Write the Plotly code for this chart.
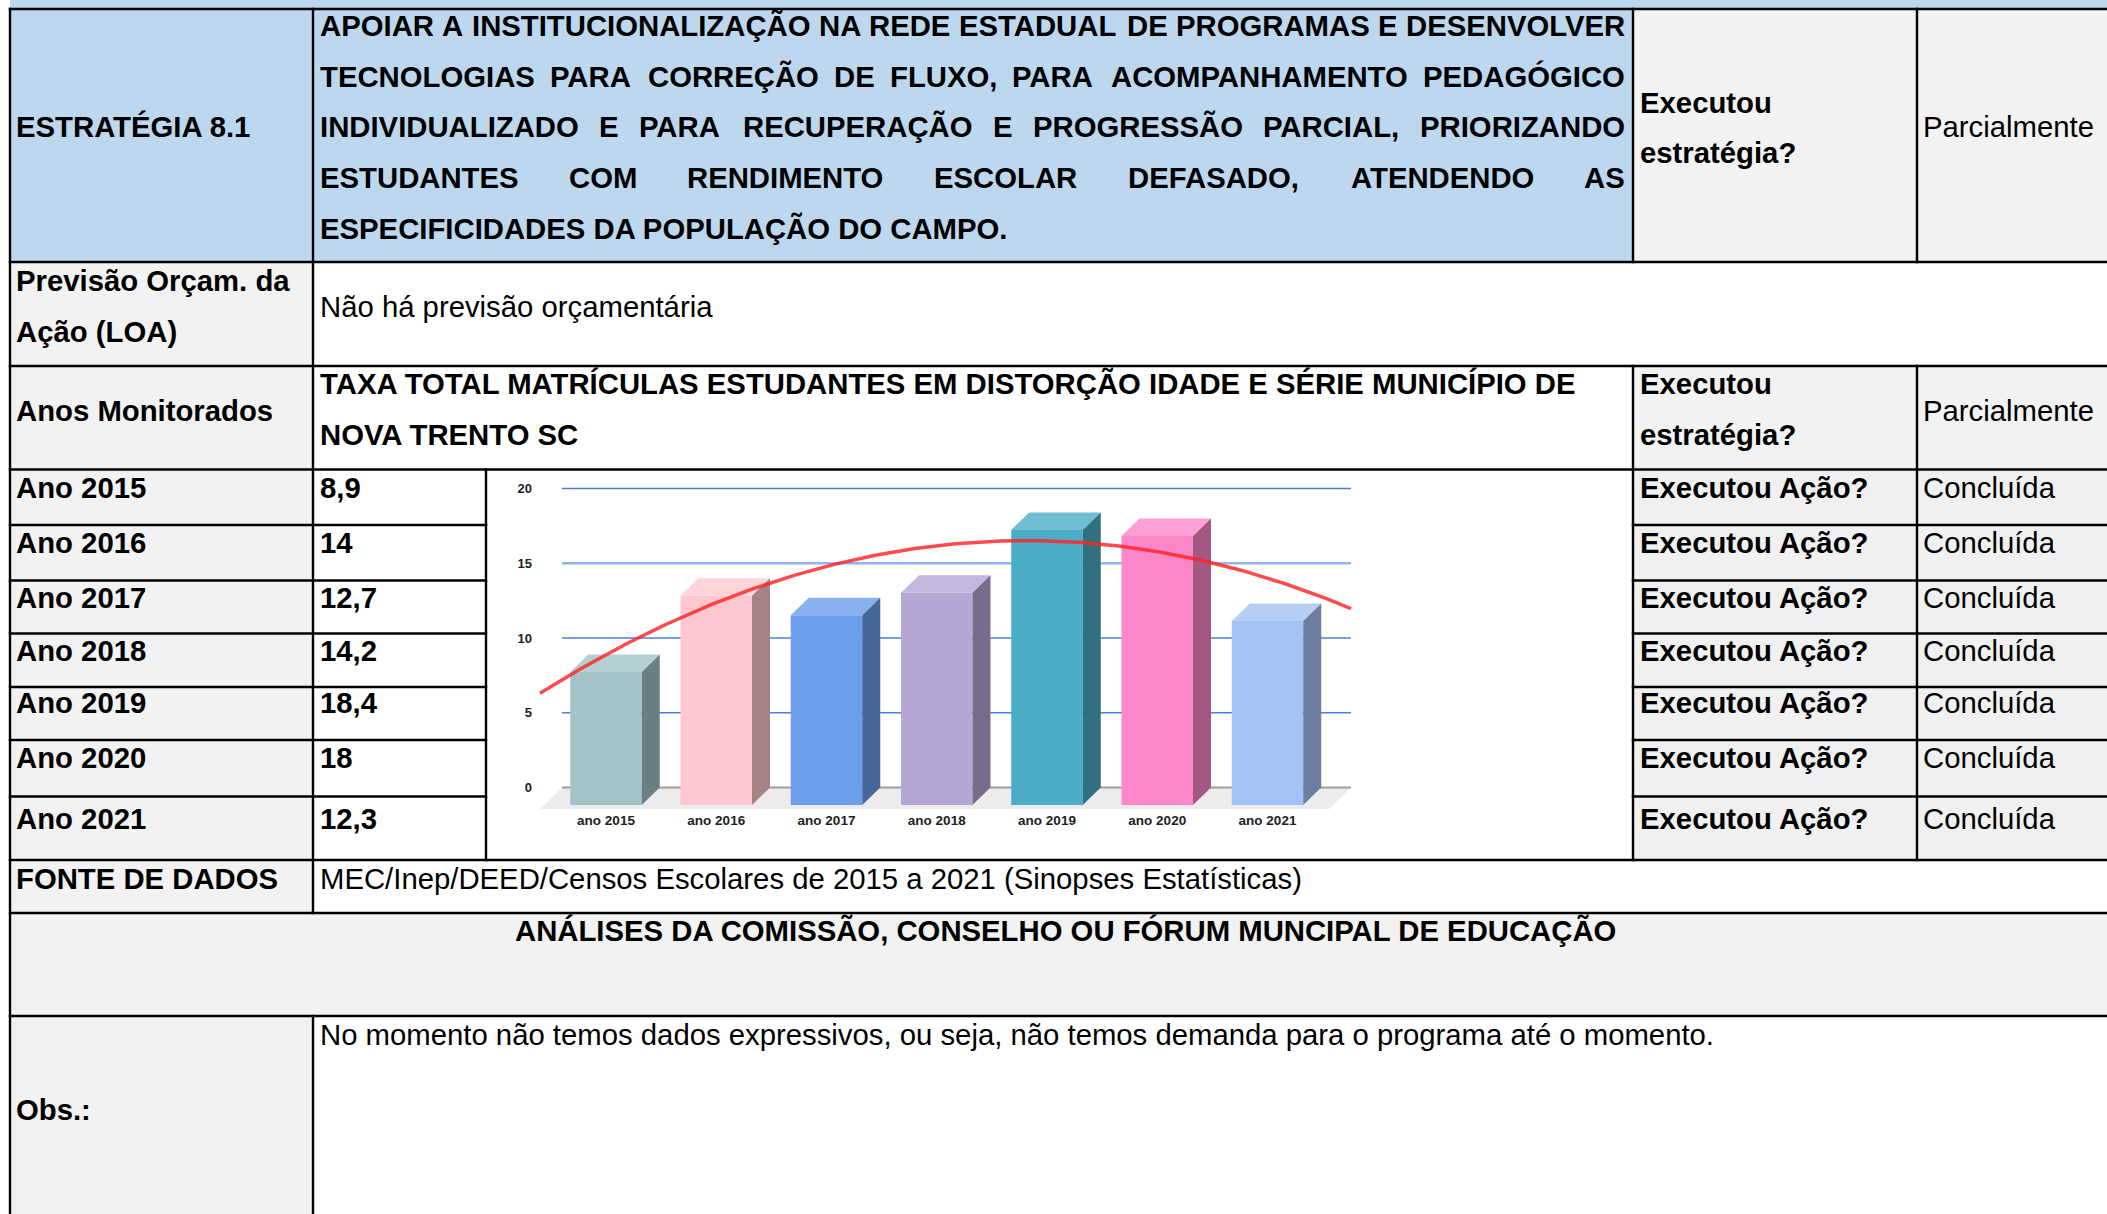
import numpy as np
import plotly.graph_objects as go

W, H = 2107, 1214

# ---------------- data ----------------
anos_tabela = ["Ano 2015", "Ano 2016", "Ano 2017", "Ano 2018", "Ano 2019", "Ano 2020", "Ano 2021"]
anos_grafico = ["ano 2015", "ano 2016", "ano 2017", "ano 2018", "ano 2019", "ano 2020", "ano 2021"]
taxa_distorcao = [8.9, 14, 12.7, 14.2, 18.4, 18, 12.3]
situacao_acao = ["Concluída", "Concluída", "Concluída", "Concluída", "Concluída", "Concluída", "Concluída"]
cores_barras = ["#a2c4c9", "#ffc8d0", "#6d9eeb", "#b4a7d6", "#4bacc6", "#fb87c9", "#a4c2f4"]
ticks_y = [0, 5, 10, 15, 20]

estrategia_linhas = [
    "APOIAR A INSTITUCIONALIZAÇÃO NA REDE ESTADUAL DE PROGRAMAS E DESENVOLVER",
    "TECNOLOGIAS PARA CORREÇÃO DE FLUXO, PARA ACOMPANHAMENTO PEDAGÓGICO",
    "INDIVIDUALIZADO E PARA RECUPERAÇÃO E PROGRESSÃO PARCIAL, PRIORIZANDO",
    "ESTUDANTES COM RENDIMENTO ESCOLAR DEFASADO, ATENDENDO AS",
    "ESPECIFICIDADES DA POPULAÇÃO DO CAMPO.",
]
titulo_indicador = ["TAXA TOTAL MATRÍCULAS ESTUDANTES EM DISTORÇÃO IDADE E SÉRIE MUNICÍPIO DE",
                    "NOVA TRENTO SC"]

# ---------------- style / layout constants ----------------
FONT = "Liberation Sans, Arial, sans-serif"
FS = 29.3
BLUE, GRAY, GRAY2, WHITE = "#bdd7ee", "#f2f2f2", "#f0f0f0", "#ffffff"
XL, XC1, XV, XC2, XC3, XR = 10, 313, 486, 1633, 1917, 2107
ano_edges = [469.5, 525, 580.5, 633.5, 687, 740, 796.5, 860]
ano_text_off = [18, 17.5, 17, 17, 15.5, 17.5, 22]
DYT = 0.0  # small vertical correction of text centres

ARIAL_BOLD = {" ": 278, ",": 278, ".": 278, "A": 722, "B": 722, "C": 722, "D": 722, "E": 667,
              "F": 611, "G": 778, "H": 722, "I": 278, "J": 556, "K": 722, "L": 611, "M": 833,
              "N": 722, "O": 778, "P": 667, "Q": 778, "R": 722, "S": 667, "T": 611, "U": 722,
              "V": 667, "W": 944, "X": 667, "Y": 667, "Z": 611, "Ã": 722, "Á": 722, "Ç": 722,
              "É": 667, "Ó": 778, "Í": 278, "Ú": 722}


def wbold(s, fs=FS):
    return sum(ARIAL_BOLD.get(c, 667) for c in s) * fs / 1000.0


def px(x):
    return x / W


def py(y):
    return 1 - y / H


shapes = []
annotations = []


def rect(x0, y0, x1, y1, color):
    shapes.append(dict(type="rect", xref="paper", yref="paper", x0=px(x0), x1=px(x1),
                       y0=py(y1), y1=py(y0), fillcolor=color, line=dict(width=0), layer="below"))


def hline(y, x0, x1):
    shapes.append(dict(type="line", xref="paper", yref="paper", x0=px(x0 - 1.2), x1=px(x1 + 1.2),
                       y0=py(y), y1=py(y), line=dict(color="#000", width=2.4), layer="above"))


def vline(x, y0, y1):
    shapes.append(dict(type="line", xref="paper", yref="paper", x0=px(x), x1=px(x),
                       y0=py(y0 - 1.2), y1=py(y1 + 1.2), line=dict(color="#000", width=2.4), layer="above"))


def T(x, y, s, bold=False, anchor="left", size=FS):
    annotations.append(dict(x=px(x), y=py(y + DYT), xref="paper", yref="paper", text=s, showarrow=False,
                            xanchor=anchor, yanchor="middle", borderpad=0,
                            font=dict(family=FONT, size=size, color="#000",
                                      weight="bold" if bold else "normal")))


# ---------------- backgrounds ----------------
rect(XL, 0, XR, 9, BLUE)
rect(XL, 9, XC2, 262, BLUE)
rect(XC2, 9, XR, 262, GRAY)
rect(XL, 262, XC1, 366, GRAY)
rect(XL, 366, XC1, 469.5, GRAY)
rect(XC2, 366, XR, 469.5, GRAY)
for i in range(len(anos_tabela)):
    rect(XL, ano_edges[i], XC1, ano_edges[i + 1], GRAY)
    rect(XC2, ano_edges[i], XR, ano_edges[i + 1], GRAY2)
rect(XL, 860, XC1, 913, GRAY)
rect(XL, 913, XR, 1016, GRAY)
rect(XL, 1016, XC1, H, GRAY)

# ---------------- borders ----------------
for y in [9, 262, 366, 469.5, 860, 913, 1016]:
    hline(y, XL, XR)
for y in ano_edges[1:-1]:
    hline(y, XL, XV)
    hline(y, XC2, XR)
vline(XL, 9, H)
vline(XC1, 9, 913)
vline(XC1, 1016, H)
vline(XV, 469.5, 860)
vline(XC2, 9, 262)
vline(XC2, 366, 860)
vline(XC3, 9, 262)
vline(XC3, 366, 860)

# ---------------- texts ----------------
TX1, TX2, TX3, TX4 = 15, 319, 1639, 1922
JR = 1626
line_y = [25.5, 76.2, 127, 177.7, 228.5]
for li, (linha, yy) in enumerate(zip(estrategia_linhas, line_y)):
    palavras = linha.split()
    if li == len(estrategia_linhas) - 1:
        T(TX2, yy, linha, bold=True)
        continue
    total = sum(wbold(p) for p in palavras)
    gap = (JR - TX2 - total) / (len(palavras) - 1)
    xx = TX2
    for j, p in enumerate(palavras):
        if j == len(palavras) - 1:
            T(JR, yy, p, bold=True, anchor="right")
        else:
            T(xx, yy, p, bold=True)
        xx += wbold(p) + gap

T(TX1, 127, "ESTRATÉGIA 8.1", bold=True)
T(TX3, 102, "Executou", bold=True)
T(TX3, 153, "estratégia?", bold=True)
T(TX4, 127, "Parcialmente")

T(TX1, 280, "Previsão Orçam. da", bold=True)
T(TX1, 331, "Ação (LOA)", bold=True)
T(TX2, 306, "Não há previsão orçamentária")

T(TX1, 410, "Anos Monitorados", bold=True)
T(TX2, 384, titulo_indicador[0], bold=True)
T(TX2, 434, titulo_indicador[1], bold=True)
T(TX3, 384, "Executou", bold=True)
T(TX3, 434, "estratégia?", bold=True)
T(TX4, 410, "Parcialmente")

for i, (rot, val, sit) in enumerate(zip(anos_tabela, taxa_distorcao, situacao_acao)):
    yy = ano_edges[i] + ano_text_off[i]
    T(TX1, yy, rot, bold=True)
    T(TX2, yy, f"{val:g}".replace(".", ","), bold=True)
    T(TX3, yy, "Executou Ação?", bold=True)
    T(TX4, yy, sit)

T(TX1, 878, "FONTE DE DADOS", bold=True)
T(TX2, 878, "MEC/Inep/DEED/Censos Escolares de 2015 a 2021 (Sinopses Estatísticas)")
T(1065, 930, "ANÁLISES DA COMISSÃO, CONSELHO OU FÓRUM MUNCIPAL DE EDUCAÇÃO", bold=True, anchor="center")
T(TX2, 1034, "No momento não temos dados expressivos, ou seja, não temos demanda para o programa até o momento.")
T(TX1, 1109, "Obs.:", bold=True)

# ---------------- chart (pseudo 3D columns) ----------------
X0, P = 606.0, 110.25      # pixel of first column centre, column pitch
Y0, S = 787.5, 14.95       # pixel of value 0 (back plane), pixels per unit
dom_x = (533, 1360)
dom_y = (472, 810)
xr = [(dom_x[0] - X0) / P, (dom_x[1] - X0) / P]
yr = [(Y0 - dom_y[1]) / S, (Y0 - dom_y[0]) / S]
dx, dy = 18.0 / P, 17.5 / S
bw = 71.5 / P
back_l, back_r = (562 - X0) / P, (1351 - X0) / P
fdx, fdy = 22.0 / P, 21.5 / S


def shade(hexc, f):
    h = hexc.lstrip("#")
    r, g, b = [int(h[i:i + 2], 16) for i in (0, 2, 4)]
    if f < 1:
        r, g, b = r * f, g * f, b * f
    else:
        t = f - 1
        r, g, b = r + (255 - r) * t, g + (255 - g) * t, b + (255 - b) * t
    return "rgb(%d,%d,%d)" % (round(r), round(g), round(b))


# floor
shapes.append(dict(type="path", xref="x", yref="y", layer="below", line=dict(width=0),
                   fillcolor="#ececec",
                   path=f"M {back_l},0 L {back_r},0 L {back_r - fdx},{-fdy} L {back_l - fdx},{-fdy} Z"))
# gridlines on the back wall
for tv in ticks_y[1:]:
    col = "#93b4ec" if tv == 15 else "#4a7fdb"
    wid = 2.6 if tv == 15 else 1.5
    shapes.append(dict(type="line", xref="x", yref="y", layer="below", x0=back_l, x1=back_r,
                       y0=tv, y1=tv, line=dict(color=col, width=wid)))
shapes.append(dict(type="line", xref="x", yref="y", layer="below", x0=back_l, x1=back_r,
                   y0=0, y1=0, line=dict(color="#9e9e9e", width=2)))

xs = list(range(len(taxa_distorcao)))
fig = go.Figure()
fig.add_trace(go.Bar(x=xs, y=taxa_distorcao, base=[-dy] * len(xs), width=bw,
                     marker=dict(color=cores_barras, line=dict(width=0)), hoverinfo="skip",
                     showlegend=False))
for k, (v, c) in enumerate(zip(taxa_distorcao, cores_barras)):
    l, r = k - bw / 2, k + bw / 2
    fig.add_trace(go.Scatter(x=[l, r, r + dx, l + dx, l], y=[v - dy, v - dy, v, v, v - dy],
                             fill="toself", fillcolor=shade(c, 1.2), mode="lines",
                             line=dict(width=0), hoverinfo="skip", showlegend=False))
    fig.add_trace(go.Scatter(x=[r, r + dx, r + dx, r, r], y=[-dy, 0, v, v - dy, -dy],
                             fill="toself", fillcolor=shade(c, 0.65), mode="lines",
                             line=dict(width=0), hoverinfo="skip", showlegend=False))

# polynomial (order 2) trend line, like the spreadsheet chart
coef = np.polyfit(xs, taxa_distorcao, 2)
tx = np.linspace(back_l - 0.2, back_r, 200)
fig.add_trace(go.Scatter(x=tx, y=np.polyval(coef, tx), mode="lines",
                         line=dict(color="rgba(255,35,35,0.82)", width=3.5),
                         hoverinfo="skip", showlegend=False))

fig.update_layout(
    width=W, height=H, margin=dict(l=0, r=0, t=0, b=0),
    paper_bgcolor="#ffffff", plot_bgcolor="rgba(0,0,0,0)",
    shapes=shapes, annotations=annotations, showlegend=False,
    xaxis=dict(domain=[px(dom_x[0]), px(dom_x[1])], range=xr, tickmode="array", tickvals=xs,
               ticktext=anos_grafico, showgrid=False, zeroline=False, showline=False, ticks="",
               fixedrange=True,
               tickfont=dict(family=FONT, size=13.5, color="#222", weight="bold")),
    yaxis=dict(domain=[py(dom_y[1]), py(dom_y[0])], range=yr, tickmode="array", tickvals=ticks_y,
               showgrid=False, zeroline=False, showline=False, ticks="", fixedrange=True,
               tickfont=dict(family=FONT, size=13, color="#222", weight="bold")),
)

fig.write_html("out.html", config={"displayModeBar": False},
               post_script="document.body.style.margin='0';document.body.style.overflow='hidden';")
